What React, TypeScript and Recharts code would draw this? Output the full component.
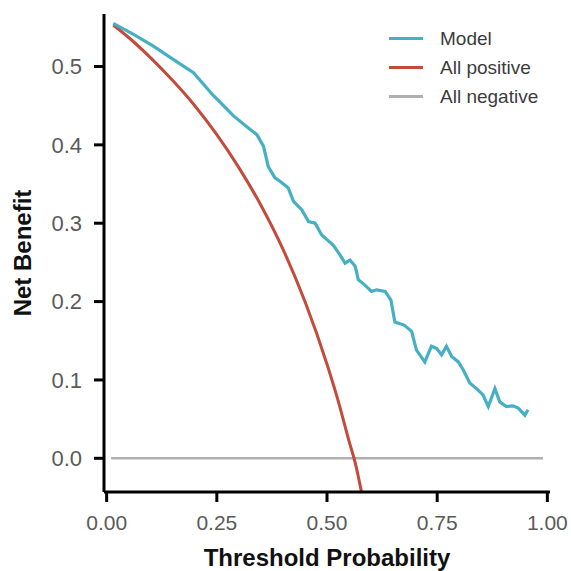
import { LineChart, Line, XAxis, YAxis, Legend, Label } from "recharts";

// decision curve, values
const modelThreshold = [
  0.015, 0.061, 0.106, 0.151, 0.197, 0.242, 0.288, 0.325, 0.341, 0.356, 0.367,
  0.382, 0.397, 0.412, 0.424, 0.443, 0.458, 0.473, 0.488, 0.514, 0.529, 0.541,
  0.552, 0.564, 0.571, 0.586, 0.601, 0.613, 0.632, 0.645, 0.654, 0.675, 0.692,
  0.703, 0.722, 0.737, 0.749, 0.76, 0.771, 0.783, 0.798, 0.809, 0.824, 0.843,
  0.854, 0.866, 0.881, 0.892, 0.907, 0.922, 0.934, 0.949, 0.956,
];
const modelNetBenefit = [
  0.555, 0.541, 0.526, 0.509, 0.492, 0.463, 0.437, 0.42, 0.413, 0.398, 0.372,
  0.358, 0.352, 0.345, 0.328, 0.317, 0.302, 0.3, 0.285, 0.272, 0.26, 0.249,
  0.253, 0.245, 0.228, 0.221, 0.213, 0.215, 0.213, 0.202, 0.174, 0.17, 0.162,
  0.138, 0.123, 0.143, 0.14, 0.132, 0.143, 0.13, 0.123, 0.113, 0.096, 0.087,
  0.081, 0.066, 0.089, 0.072, 0.066, 0.067, 0.064, 0.055, 0.062,
];

const allPosThreshold = [
  0.015, 0.05, 0.1, 0.15, 0.2, 0.25, 0.3, 0.35, 0.4, 0.45, 0.5, 0.525, 0.55, 0.565, 0.58,
];
const allPosNetBenefit = [
  0.553, 0.537, 0.511, 0.482, 0.45, 0.413, 0.371, 0.323, 0.267, 0.2, 0.12, 0.074, 0.022, -0.008, -0.048,
];

const allNegThreshold = [0.01, 0.99];
const allNegNetBenefit = [0, 0];

const xTicks = [0, 0.25, 0.5, 0.75, 1];
const yTicks = [0, 0.1, 0.2, 0.3, 0.4, 0.5];
const legendOrder = ["Model", "All positive", "All negative"];

const toPoints = (xs: number[], ys: number[]) => xs.map((t, i) => ({ t, nb: ys[i] }));

const modelData = toPoints(modelThreshold, modelNetBenefit);
const allPosData = toPoints(allPosThreshold, allPosNetBenefit);
const allNegData = toPoints(allNegThreshold, allNegNetBenefit);

const font = "'Liberation Sans', Arial, sans-serif";

const renderLegend = (props: any) => {
  const items = [...(props.payload || [])].sort(
    (a: any, b: any) => legendOrder.indexOf(a.value) - legendOrder.indexOf(b.value)
  );
  return (
    <div style={{ fontFamily: font }}>
      {items.map((entry: any) => (
        <div
          key={entry.value}
          style={{ display: "flex", alignItems: "center", height: 29 }}
        >
          <span
            style={{
              display: "inline-block",
              width: 34,
              height: 3,
              background: entry.color,
              marginRight: 17,
            }}
          />
          <span style={{ fontSize: 19, color: "#3c3c3c" }}>{entry.value}</span>
        </div>
      ))}
    </div>
  );
};

export default function App() {
  return (
    <>
      <style>{"body{margin:0;overflow:hidden}"}</style>
      <LineChart
        width={571}
        height={571}
        margin={{ top: 14, right: 21, bottom: 0, left: 0 }}
      >
        <XAxis
          dataKey="t"
          type="number"
          domain={[-0.006, 1.006]}
          allowDataOverflow
          ticks={xTicks}
          tickFormatter={(v) => v.toFixed(2)}
          height={79}
          tickSize={10}
          tickMargin={13}
          axisLine={{ stroke: "#000", strokeWidth: 3 }}
          tickLine={{ stroke: "#000", strokeWidth: 3 }}
          tick={{ fill: "#5a5a5a", fontSize: 21, fontFamily: font }}
        >
          <Label
            value="Threshold Probability"
            position="insideBottom"
            offset={5}
            style={{ fontSize: 24, fontWeight: "bold", fill: "#111", fontFamily: font }}
          />
        </XAxis>
        <YAxis
          type="number"
          domain={[-0.043, 0.567]}
          allowDataOverflow
          ticks={yTicks}
          tickFormatter={(v) => v.toFixed(1)}
          width={104}
          tickSize={10}
          tickMargin={12}
          axisLine={{ stroke: "#000", strokeWidth: 3 }}
          tickLine={{ stroke: "#000", strokeWidth: 3 }}
          tick={{ fill: "#5a5a5a", fontSize: 22, fontFamily: font }}
        >
          <Label
            value="Net Benefit"
            angle={-90}
            position="insideLeft"
            offset={22.5}
            style={{ textAnchor: "middle", fontSize: 24, fontWeight: "bold", fill: "#111", fontFamily: font }}
          />
        </YAxis>
        <Legend
          layout="vertical"
          align="center"
          verticalAlign="middle"
          content={renderLegend}
          wrapperStyle={{ left: 389, top: 24, width: 180 }}
        />
        <Line
          data={allNegData}
          dataKey="nb"
          name="All negative"
          type="linear"
          stroke="#b0b0b0"
          strokeWidth={2.5}
          dot={false}
          isAnimationActive={false}
        />
        <Line
          data={allPosData}
          dataKey="nb"
          name="All positive"
          type="monotone"
          stroke="#c24b3c"
          strokeWidth={3}
          dot={false}
          isAnimationActive={false}
        />
        <Line
          data={modelData}
          dataKey="nb"
          name="Model"
          type="linear"
          stroke="#45b0c4"
          strokeWidth={3.2}
          dot={false}
          isAnimationActive={false}
        />
      </LineChart>
    </>
  );
}
